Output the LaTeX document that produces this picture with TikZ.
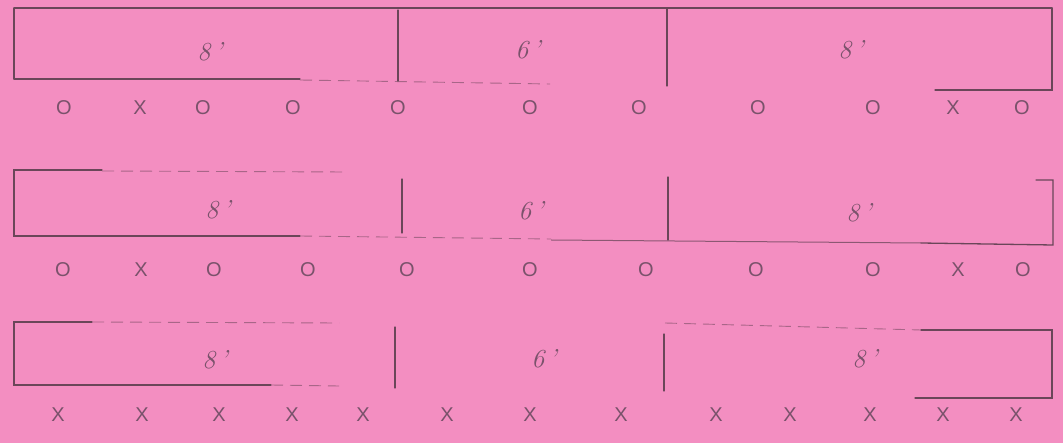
\documentclass[tikz,border=0pt]{standalone}
\usepackage{fontspec}
\setsansfont{Liberation Sans}
\definecolor{paper}{HTML}{F38EC1}
\definecolor{ink}{HTML}{6A4659}
\definecolor{pencil}{HTML}{7A526B}
\begin{document}
\begin{tikzpicture}[x=1pt,y=-1pt,
  line/.style={draw=ink, line width=1.3pt, line cap=round},
  light/.style={draw=ink!75!paper, line width=1pt},
  faint/.style={draw=ink!55!paper, line width=0.9pt, dash pattern=on 12pt off 7pt},
  dimlabel/.style={font=\fontsize{26}{26}\selectfont\itshape, text=pencil, inner sep=0pt},
  sym/.style={font=\fontsize{20}{20}\selectfont\sffamily, text=pencil, inner sep=0pt}]
\fill[paper] (0,0) rectangle (1063,443);
\useasboundingbox (0,0) rectangle (1063,443);

% ---- Row 1 ----
\draw[line] (14,8) -- (1052,8);
\draw[line] (14,8) -- (14,79);
\draw[line] (14,79) -- (300,79);
\draw[faint] (300,80) -- (550,84);
\draw[line] (398,10) -- (398,81);
\draw[line] (667,8) -- (667,86);
\draw[line] (935,90) -- (1052,90) -- (1052,8);
\node[dimlabel] (r1a) at (210,52) {8\,'};
\node[dimlabel] (r1b) at (528,50) {6\,'};
\node[dimlabel] (r1c) at (851,50) {8\,'};
\foreach \x/\t [count=\i] in {64/O,140/X,203/O,293/O,398/O,530/O,639/O,758/O,873/O,953/X,1022/O}
  \node[sym] (s1\i) at (\x,108) {\t};

% ---- Row 2 ----
\draw[line] (102,170) -- (14,170) -- (14,236) -- (300,236);
\draw[faint] (102,171) -- (346,172);
\draw[faint] (300,236) -- (551,239);
\draw[light] (551,240) -- (921,243);
\draw[line] (921,243) -- (1053,245) -- (1053,180) -- (1036,180);
\draw[line] (402,179) -- (402,233);
\draw[line] (668,177) -- (668,240);
\node[dimlabel] (r2a) at (218,210) {8\,'};
\node[dimlabel] (r2b) at (531,211) {6\,'};
\node[dimlabel] (r2c) at (859,213) {8\,'};
\foreach \x/\t [count=\i] in {63/O,141/X,214/O,308/O,407/O,530/O,646/O,756/O,873/O,958/X,1023/O}
  \node[sym] (s2\i) at (\x,270) {\t};

% ---- Row 3 ----
\draw[line] (92,322) -- (14,322) -- (14,385) -- (271,385);
\draw[faint] (92,322) -- (339,323);
\draw[faint] (271,385) -- (339,386);
\draw[faint] (665,323) -- (921,330);
\draw[line] (395,327) -- (395,388);
\draw[line] (664,334) -- (664,391);
\draw[line] (921,330) -- (1052,330) -- (1052,398) -- (915,398);
\node[dimlabel] (r3a) at (215,360) {8\,'};
\node[dimlabel] (r3b) at (544,359) {6\,'};
\node[dimlabel] (r3c) at (865,359) {8\,'};
\foreach \x [count=\i] in {58,142,219,292,363,447,530,621,716,790,870,943,1016}
  \node[sym] (s3\i) at (\x,415) {X};
\end{tikzpicture}
\end{document}
